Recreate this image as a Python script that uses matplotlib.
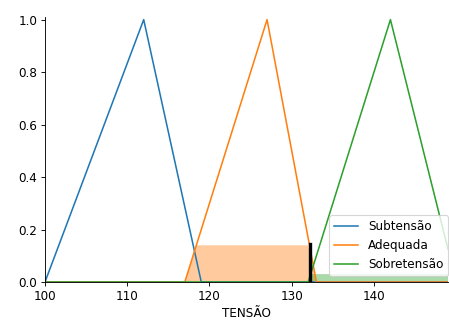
import matplotlib
matplotlib.use("Agg")
import matplotlib.pyplot as plt

# Funções de pertinência (vértices)
sub_x = [100, 112, 119, 149]
sub_y = [0, 1, 0, 0]
adq_x = [100, 117, 127, 133, 149]
adq_y = [0, 0, 1, 0, 0]
sob_x = [100, 132, 142, 149]
sob_y = [0, 0, 1, 0.125]

# Regiões ativadas
adq_fill_x = [100, 117, 118.4, 132, 133, 149]
adq_fill_y = [0, 0, 0.14, 0.14, 0, 0]
sob_fill_x = [100, 132, 132.3, 149]
sob_fill_y = [0, 0, 0.03, 0.03]

crisp = 132.2
crisp_y = 0.143

labels = ["Subtensão", "Adequada", "Sobretensão"]
colors = ["#1f77b4", "#ff7f0e", "#2ca02c"]

plt.rcParams["font.size"] = 10.8

fig = plt.figure(figsize=(449 / 80, 322 / 80), dpi=80)
ax = fig.add_axes([45 / 449, 40 / 322, 403 / 449, 265 / 322])

ax.plot(sub_x, sub_y, color=colors[0], label=labels[0], lw=1.4)
ax.plot(adq_x, adq_y, color=colors[1], label=labels[1], lw=1.4)
ax.plot(sob_x, sob_y, color=colors[2], label=labels[2], lw=1.4)

ax.fill_between(adq_fill_x, 0, adq_fill_y, facecolor=colors[1], alpha=0.4)
ax.fill_between(sob_fill_x, 0, sob_fill_y, facecolor=colors[2], alpha=0.4)

ax.plot([crisp, crisp], [0, crisp_y], color="k", lw=3)

ax.set_xlim(100, 149)
ax.set_ylim(0, 1.01)
ax.set_xlabel("TENSÃO")
ax.spines["top"].set_visible(False)
ax.spines["right"].set_visible(False)
ax.get_xaxis().tick_bottom()
ax.get_yaxis().tick_left()
ax.legend(loc="lower right", bbox_to_anchor=(1.015, 0.0))

fig.savefig("out.png", dpi=80)
plt.close()
